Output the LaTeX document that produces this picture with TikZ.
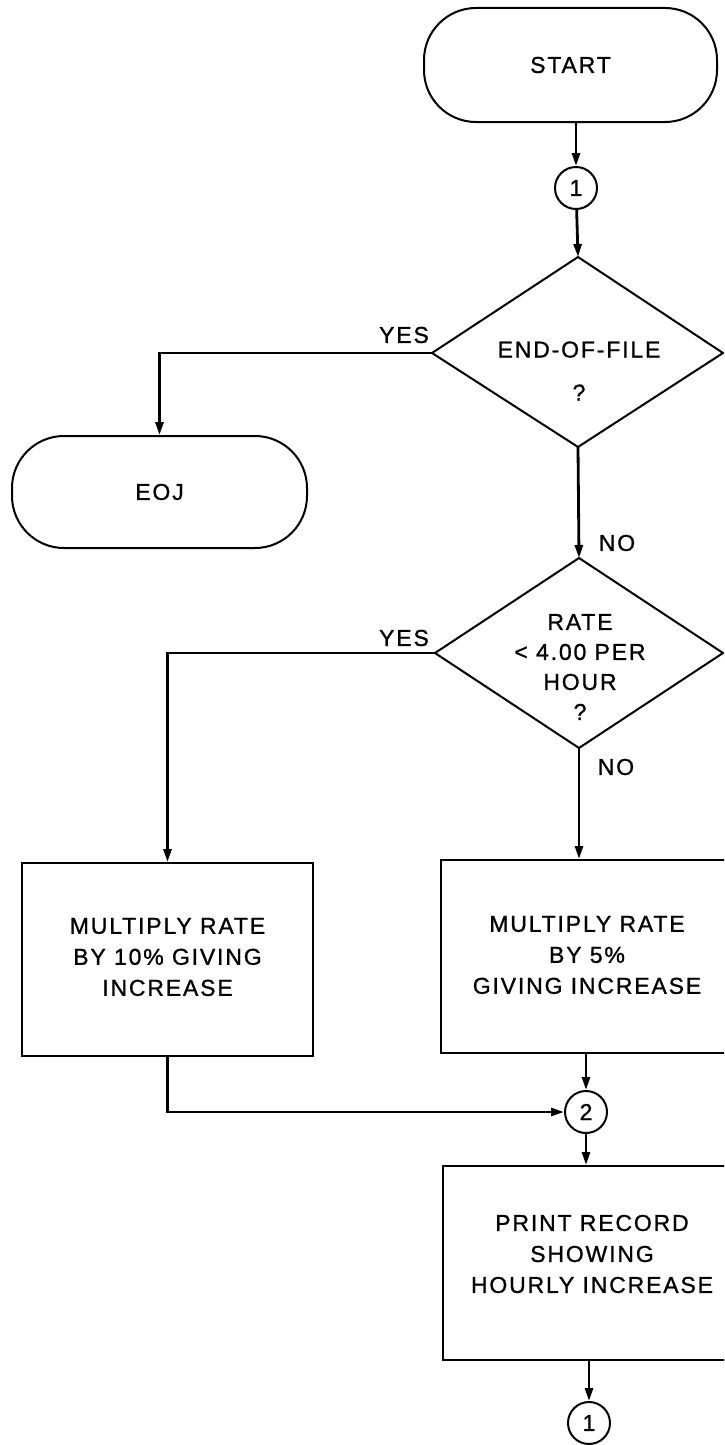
\documentclass[tikz,border=0pt]{standalone}
\usepackage{fontspec}
\setmainfont{Liberation Sans}[LetterSpace=8, FakeBold=1]
\usetikzlibrary{arrows.meta}
\begin{document}
\begin{tikzpicture}[x=1pt,y=-1pt,
  every node/.style={font=\fontsize{23}{31}\selectfont},
  terminal/.style={draw, line width=2pt, rounded corners=52pt, inner sep=0pt},
  procbox/.style={draw, line width=2pt, inner sep=0pt},
  conn/.style={draw, circle, line width=2pt, inner sep=0pt, minimum size=42pt},
  decision/.style={line width=2pt, line join=miter},
  flow/.style={line width=2.8pt, -{Triangle[length=13pt,width=8pt]}},
  txt/.style={align=center, inner sep=0pt},
  lbl/.style={inner sep=0pt}
]
\useasboundingbox (0,0) rectangle (724,1445);
\clip (0,0) rectangle (724,1445);

% terminals and connectors
\node[terminal, minimum width=293pt, minimum height=114pt] (start) at (570.5,65) {START};
\node[conn] (c1) at (576,188) {1};
\node[terminal, minimum width=295pt, minimum height=112pt] (eoj) at (159.5,492) {EOJ};

% first decision: end of file
\coordinate (d1t) at (578,257);
\coordinate (d1r) at (723,353);
\coordinate (d1b) at (578,447);
\coordinate (d1l) at (432,353);
\draw[decision] (d1t) -- (d1r) -- (d1b) -- (d1l) -- cycle;
\node[txt] (q1) at (579,371) {END-OF-FILE\\[12pt]?};
\node[lbl] (yes1) at (404,335) {YES};
\node[lbl] (no1) at (617,543) {NO};

% second decision: rate test
\coordinate (d2t) at (579,558);
\coordinate (d2r) at (723,653);
\coordinate (d2b) at (579,748);
\coordinate (d2l) at (435,653);
\draw[decision] (d2t) -- (d2r) -- (d2b) -- (d2l) -- cycle;
\node[txt, font=\fontsize{23}{30}\selectfont] (q2) at (580,667)
  {RATE\\\textless{} 4.00 PER\\HOUR\\?};
\node[lbl] (yes2) at (404,638) {YES};
\node[lbl] (no2) at (616,767) {NO};

% process boxes
\node[procbox, minimum width=291pt, minimum height=193pt] (inc10) at (167.5,959.5) {};
\node[txt] (inc10txt) at (167.5,957) {MULTIPLY RATE\\BY 10\% GIVING\\INCREASE};
\node[procbox, minimum width=289pt, minimum height=193pt] (inc5) at (585.5,956.5) {};
\node[txt] (inc5txt) at (587,955) {MULTIPLY RATE\\BY 5\%\\GIVING INCREASE};
\node[conn] (c2) at (586,1112) {2};
\node[procbox, minimum width=287pt, minimum height=194pt] (print) at (586.5,1263) {};
\node[txt] (printtxt) at (592,1254) {PRINT RECORD\\SHOWING\\HOURLY INCREASE};
\node[conn] (c1b) at (589,1423) {1};

% flow lines
\draw[flow] (start.south -| c1) -- (c1);
\draw[flow] (c1) -- (d1t);
\draw[flow] (d1l) -| (eoj);
\draw[flow] (d1b) -- (d2t);
\draw[flow] (d2l) -| (inc10);
\draw[flow] (d2b) -- (d2b |- inc5.north);
\draw[flow] (inc10.south) |- (c2);
\draw[flow] (inc5.south -| c2) -- (c2);
\draw[flow] (c2) -- (c2 |- print.north);
\draw[flow] (print.south -| c1b) -- (c1b);
\end{tikzpicture}
\end{document}
